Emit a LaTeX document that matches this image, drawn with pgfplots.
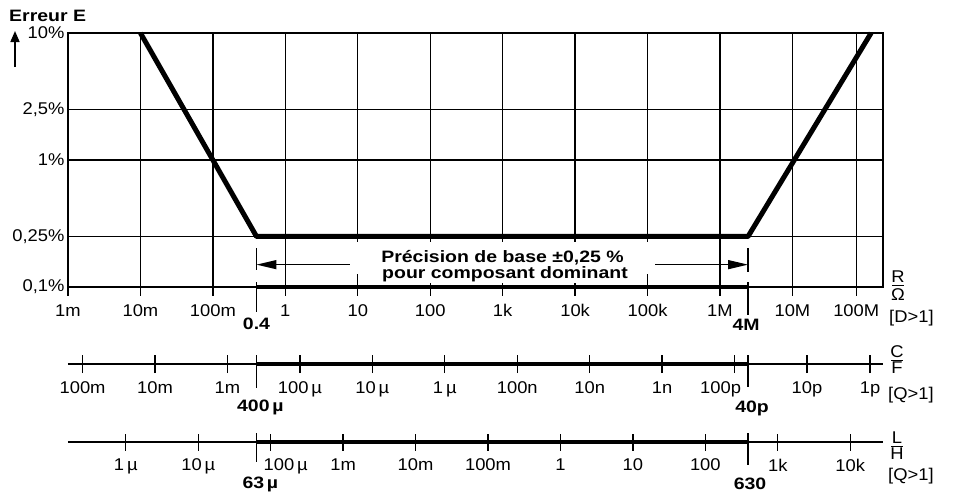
\documentclass[border=0pt]{standalone}
\usepackage{fontspec}
\setmainfont{Liberation Sans}[FakeStretch=1.08, BoldFeatures={FakeStretch=1.18}]
\usepackage{pgfplots}
\pgfplotsset{compat=1.18}
\usetikzlibrary{arrows.meta}

\newcommand{\fs}{\fontsize{17bp}{19bp}\selectfont}
\newcommand{\fb}{\fontsize{16.5bp}{19bp}\selectfont\bfseries}

\begin{document}
\begin{tikzpicture}[font=\fs]
\useasboundingbox (0,0) rectangle (955bp,-492bp);

% ---------------- main error chart ----------------
\begin{axis}[
  at={(68bp,-287bp)}, anchor=south west,
  scale only axis, width=815bp, height=254bp,
  xmode=log, ymode=log,
  xmin=1e-3, xmax=1.78e8, ymin=0.1, ymax=10,
  xtick={1e-3,1e-2,0.1,1,10,100,1e3,1e4,1e5,1e6,1e7,7.6e7},
  xticklabels={1m,10m,100m,1,10,100,1k,10k,100k,1M,10M,100M},
  ytick={0.1,0.25,1,2.5,10},
  yticklabels={{0,1\%},{0,25\%},{1\%},{2,5\%},{10\%}},
  minor xtick={}, minor ytick={},
  grid=major, major grid style={black, line width=1.3bp},
  axis line style={line width=1.5bp},
  xtick pos=left, xtick align=outside,
  major tick length=9bp,
  xtick style={line width=1.3bp, black},
  ytick style={draw=none},
  tick label style={font=\fs},
  xticklabel style={yshift=-5bp},
  clip=false,
]
\addplot[line width=5bp, line join=round] coordinates {(1e-2,10) (0.4,0.25) (2.44e6,0.25) (1.22e8,10)};
\addplot[line width=4.5bp] coordinates {(0.4,0.1) (2.44e6,0.1)};
\addplot[line width=1.3bp, {Triangle[length=20bp,width=9bp]}-{Triangle[length=20bp,width=9bp]}] coordinates {(0.4,0.15) (2.44e6,0.15)};
\draw[line width=1.3bp] ([yshift=39bp]axis cs:0.4,0.1) -- ([yshift=17bp]axis cs:0.4,0.1)
                        ([yshift=5bp]axis cs:0.4,0.1) -- ([yshift=-25bp]axis cs:0.4,0.1);
\draw[line width=1.3bp] ([yshift=39bp]axis cs:2.44e6,0.1) -- ([yshift=15bp]axis cs:2.44e6,0.1)
                        ([yshift=5bp]axis cs:2.44e6,0.1) -- ([yshift=-28bp]axis cs:2.44e6,0.1);
\node[font=\fb] at ([yshift=-37bp]axis cs:0.4,0.1) {0.4};
\node[font=\fb] at ([yshift=-38bp, xshift=-2bp]axis cs:2.44e6,0.1) {4M};
\end{axis}

% text boxes over the dimension arrows
\node[fill=white, inner xsep=0pt, inner ysep=0pt, minimum width=305bp, minimum height=32bp, font=\fb] at (502.5bp,-258bp) {\raisebox{3bp}{Précision de base ±0,25 \%}};
\node[fill=white, inner xsep=6bp, inner ysep=0pt, minimum height=18bp, font=\fb] at (505bp,-274bp) {pour composant dominant};

% title and arrow
\node[anchor=west, font=\fb, inner sep=0pt] at (9bp,-16bp) {Erreur E};
\draw[line width=1.6bp, -{Triangle[length=11bp,width=9bp]}] (15bp,-67bp) -- (15bp,-31bp);

% right labels R/Ohm
\node[inner sep=0pt] at (898bp,-276.5bp) {R};
\draw[line width=1bp] (892bp,-285.5bp) -- (904bp,-285.5bp);
\node[inner sep=0pt] at (898bp,-294.5bp) {Ω};
\node[anchor=west, inner sep=0pt] at (889bp,-318bp) {[D>1]};

% ---------------- capacitance scale ----------------
\begin{axis}[
  at={(68bp,-364bp)}, anchor=south west,
  scale only axis, width=815bp, height=10bp,
  xmode=log, xmin=1e-3, xmax=1.78e8, ymin=0, ymax=1,
  axis y line=none, axis x line*=bottom,
  xtick={1.59e-3,1.59e-2,0.159,1.59,15.9,159,1592,15915,1.59e5,1.59e6,1.59e7,1.18e8},
  xticklabels={100m,10m,1m,100\,µ,10\,µ,1\,µ,100n,10n,1n,100p\hspace*{28bp},10p,1p},
  minor xtick={},
  tick align=center, major tick length=18bp,
  x axis line style={line width=1.3bp},
  xtick style={line width=1.3bp, black},
  tick label style={font=\fs},
  xticklabel style={yshift=-5bp},
  clip=false,
]
\addplot[line width=4bp] coordinates {(0.398,0) (2.44e6,0)};
\draw[line width=1.3bp] ([yshift=9bp]axis cs:0.398,0) -- ([yshift=-24bp]axis cs:0.398,0);
\draw[line width=1.3bp] ([yshift=9bp]axis cs:2.44e6,0) -- ([yshift=-23bp]axis cs:2.44e6,0);
\node[font=\fb] at ([xshift=4bp, yshift=-43bp]axis cs:0.398,0) {400\,µ};
\node[font=\fb] at ([xshift=4bp, yshift=-44bp]axis cs:2.44e6,0) {40p};
\end{axis}

\node[inner sep=0pt] at (897bp,-351.5bp) {C};
\draw[line width=1bp] (891bp,-360bp) -- (903bp,-360bp);
\node[inner sep=0pt] at (897bp,-368bp) {F};
\node[anchor=west, inner sep=0pt] at (888bp,-395bp) {[Q>1]};

% ---------------- inductance scale ----------------
\begin{axis}[
  at={(68bp,-442bp)}, anchor=south west,
  scale only axis, width=815bp, height=10bp,
  xmode=log, xmin=1e-3, xmax=1.78e8, ymin=0, ymax=1,
  axis y line=none, axis x line*=bottom,
  xtick={6.28e-3,6.28e-2,0.628,6.28,62.8,628,6283,62832,6.28e5,6.28e6,6.28e7},
  xticklabels={1\,µ,10\,µ,\hspace*{30bp}100\,µ,1m,10m,100m,1,10,100,1k,10k},
  minor xtick={},
  tick align=center, major tick length=17bp,
  x axis line style={line width=1.3bp},
  xtick style={line width=1.3bp, black},
  tick label style={font=\fs},
  xticklabel style={yshift=-5bp},
  clip=false,
]
\addplot[line width=4bp] coordinates {(0.398,0) (2.44e6,0)};
\draw[line width=1.3bp] ([yshift=9bp]axis cs:0.398,0) -- ([yshift=-20bp]axis cs:0.398,0);
\draw[line width=1.3bp] ([yshift=9bp]axis cs:2.44e6,0) -- ([yshift=-23bp]axis cs:2.44e6,0);
\node[font=\fb] at ([xshift=4bp, yshift=-42bp]axis cs:0.398,0) {63\,µ};
\node[font=\fb] at ([xshift=2bp, yshift=-42bp]axis cs:2.44e6,0) {630};
\end{axis}

\node[inner sep=0pt] at (897bp,-438bp) {L};
\draw[line width=1bp] (891bp,-446bp) -- (903bp,-446bp);
\node[inner sep=0pt] at (897bp,-454bp) {H};
\node[anchor=west, inner sep=0pt] at (888bp,-476bp) {[Q>1]};
\end{tikzpicture}
\end{document}
